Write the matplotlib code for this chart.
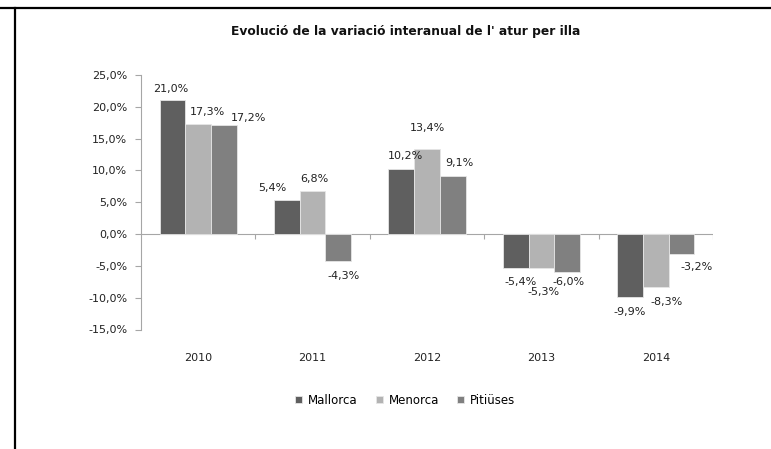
import numpy as np
import matplotlib.pyplot as plt
from matplotlib.lines import Line2D

# Dades: variació interanual de l'atur (%)
anys = ['2010', '2011', '2012', '2013', '2014']
mallorca = [21.0, 5.4, 10.2, -5.4, -9.9]
menorca = [17.3, 6.8, 13.4, -5.3, -8.3]
pitiuses = [17.2, -4.3, 9.1, -6.0, -3.2]
illes = ['Mallorca', 'Menorca', 'Pitiüses']
colors = ['#5f5f5f', '#b3b3b3', '#808080']

# desplaçaments (pixels) de les etiquetes respecte l'extrem de la barra
desp = [
    [(-2, 11), (-15, 12), (4, 13), (5, -14), (0, -15)],
    [(9, 12), (2, 12), (0, 21), (2, -24), (11, -15)],
    [(25, 7), (5, -15), (7, 13), (1, -10), (15, -13)],
]

fig = plt.figure(figsize=(7.71, 4.49), dpi=100)
ax = fig.add_axes([141/771, 1-329.5/449, (713-141)/771, (329.5-75)/449])

x = np.arange(len(anys))
w = 0.225
series = [mallorca, menorca, pitiuses]
for k in range(3):
    pos = x + (k-1)*w
    ax.bar(pos, series[k], w, color=colors[k], edgecolor='#e6e6e6',
           linewidth=0.6, label=illes[k], zorder=2)
    for i in range(len(anys)):
        v = series[k][i]
        txt = ('%.1f%%' % v).replace('.', ',')
        ax.annotate(txt, (pos[i], v), xytext=desp[k][i], textcoords='offset pixels',
                    ha='center', va='center', fontsize=8, color='#222222')

ax.set_xlim(-0.5, len(anys)-0.5)
ax.set_ylim(-15, 25)
ax.set_yticks(np.arange(-15, 26, 5))
ax.set_yticklabels([('%.1f%%' % t).replace('.', ',') for t in np.arange(-15, 26, 5)])
ax.tick_params(axis='y', length=4, width=0.8, color='#a6a6a6', pad=6,
               labelsize=8, labelcolor='#222222')

ax.set_xticks(x)
ax.set_xticklabels(anys)
ax.tick_params(axis='x', length=0, pad=17, labelsize=8, labelcolor='#222222')

for s in ['top', 'right', 'bottom']:
    ax.spines[s].set_visible(False)
ax.spines['left'].set_color('#a6a6a6')
ax.spines['left'].set_linewidth(0.8)

# eix horitzontal a 0 amb marques entre categories
ax.axhline(0, color='#a6a6a6', lw=0.8, zorder=1)
limits = np.arange(len(anys)+1) - 0.5
ax.vlines(limits[1:], -0.7, 0, color='#a6a6a6', lw=0.8, zorder=1)

fig.text(406/771, 1-31/449, "Evolució de la variació interanual de l' atur per illa",
         ha='center', va='center', fontsize=8.8, fontweight='bold', color='#111111')

fig.legend(loc='center', bbox_to_anchor=(405/771, 1-400/449), ncol=3, frameon=False,
           fontsize=8.5, handlelength=0.6, handleheight=0.6, handletextpad=0.5,
           columnspacing=1.5)

# marc
fig.add_artist(Line2D([0, 1], [1-8/449, 1-8/449], color='black', lw=1.6, transform=fig.transFigure))
fig.add_artist(Line2D([15/771, 15/771], [0, 1-8/449], color='black', lw=1.6, transform=fig.transFigure))

fig.savefig('out.png', dpi=100)
